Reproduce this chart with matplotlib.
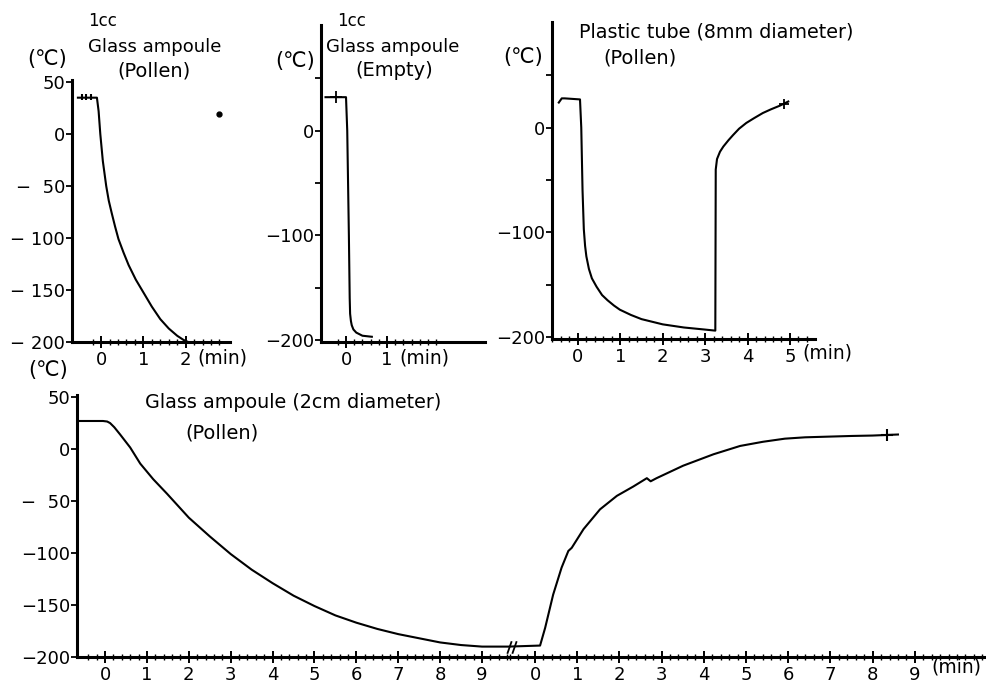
import numpy as np
import matplotlib
matplotlib.use("Agg")
import matplotlib.pyplot as plt
from matplotlib.ticker import FixedLocator

plt.rcParams['font.family'] = ['DejaVu Sans', 'Noto Sans CJK JP']

# ---------------- data ----------------
# Panel A: 1cc glass ampoule (pollen)
a_time = [-0.55, -0.10, -0.06, -0.02, 0.04, 0.12, 0.18, 0.25, 0.33, 0.41, 0.53, 0.65, 0.82, 1.01,
          1.20, 1.40, 1.60, 1.80, 1.95, 2.06]
a_temp = [35, 35, 22, 0, -26, -50, -64, -76, -89, -101, -114, -126, -140, -153,
          -166, -178, -187, -194, -198, -200]
a_marks_t = [-0.45, -0.35, -0.25]
a_marks_T = [36, 36, 36]
speck_t, speck_T = [2.79], [19]

# Panel B: 1cc glass ampoule (empty)
b_time = [-0.50, 0.00, 0.03, 0.07, 0.09, 0.10, 0.12, 0.14, 0.18, 0.25, 0.40, 0.63]
b_temp = [32, 32, 0, -100, -160, -175, -182, -186, -190, -193, -196, -197]
b_mark_t, b_mark_T = [-0.24], [32]

# Panel C: plastic tube 8mm (pollen)
c_time = [-0.45, -0.38, -0.31, 0.05, 0.08, 0.11, 0.14, 0.17, 0.20, 0.26, 0.33, 0.44, 0.57, 0.70,
          0.85, 0.99, 1.25, 1.50, 2.00, 2.50, 3.00, 3.24,
          3.25, 3.28, 3.35, 3.43, 3.55, 3.66, 3.80, 3.97, 4.15, 4.36, 4.55, 4.76, 4.96]
c_temp = [24, 28, 28, 27, 0, -60, -97, -113, -123, -135, -144, -152, -160, -165,
          -170, -174, -179, -183, -188, -191, -193, -194,
          -40, -30, -23, -18, -12, -7, -1, 4.5, 9, 14, 17.5, 21, 25]
c_mark_t, c_mark_T = [4.85], [23]

# Panel D: glass ampoule 2cm (pollen) – cooling segment
d1_time = [-0.60, -0.05, 0.05, 0.12, 0.22, 0.36, 0.60, 0.84, 1.15, 1.48, 2.00, 2.50, 3.00, 3.50,
           4.00, 4.50, 5.00, 5.50, 6.00, 6.50, 7.00, 7.50, 8.00, 8.50, 9.00, 9.62]
d1_temp = [27, 27, 26.5, 25, 21, 14, 1.5, -14, -29, -43, -66, -84, -101, -116,
           -129, -141, -151, -160, -167, -173, -178, -182, -186, -188.5, -190, -190]
# warming segment
d2_time = [-0.64, 0.12, 0.24, 0.43, 0.63, 0.79, 0.87, 1.15, 1.54, 1.94, 2.33, 2.65, 2.74, 2.88,
           3.51, 4.23, 4.86, 5.40, 5.92, 6.40, 6.99, 7.50, 8.00, 8.60]
d2_temp = [-190, -189, -172, -140, -114, -98, -95, -77, -58, -45, -36, -28, -31, -28,
           -16, -5, 3, 7, 10, 11.3, 12, 12.6, 13, 14]
d2_mark_t, d2_mark_T = [8.35], [14]

W, H = 987, 685
def fx(px):
    return px / W
def fy(py):
    return 1 - py / H

fig = plt.figure(figsize=(9.87, 6.85), dpi=100)

LW = 1.5
SPW = 2.2
FS = 13

def style(ax, left=True):
    ax.spines['top'].set_visible(False)
    ax.spines['right'].set_visible(False)
    ax.spines['left'].set_visible(left)
    ax.spines['left'].set_linewidth(SPW)
    ax.spines['bottom'].set_linewidth(SPW)
    ax.tick_params(axis='y', direction='out', length=4, width=1.3, labelsize=FS, pad=1)
    ax.tick_params(axis='x', which='major', direction='inout', length=9, width=1.4, labelsize=FS, pad=2)
    ax.tick_params(axis='x', which='minor', direction='inout', length=5, width=1.0)
    ax.set_facecolor('none')
    if not left:
        ax.tick_params(axis='y', left=False, labelleft=False)

def rect(x0, x1, y0, y1):
    return [fx(x0), fy(y1), (x1 - x0) / W, (y1 - y0) / H]

# ---------------- Panel A ----------------
axA = fig.add_axes(rect(72, 230, 80, 342))
axA.plot(a_time, a_temp, color='black', lw=LW)
axA.plot(a_marks_t, a_marks_T, ls='none', marker='|', ms=5, mew=1.5, color='black')
axA.plot(speck_t, speck_T, ls='none', marker='o', ms=3.5, color='black')
axA.set_xlim(-0.69, 3.05)
axA.set_ylim(-200, 52)
style(axA)
axA.set_yticks([50, 0, -50, -100, -150, -200])
axA.set_yticklabels(['50', '0', '−  50', '− 100', '− 150', '− 200'])
axA.set_xticks([0, 1, 2])
axA.set_xticklabels(['0', '1', '2'])
axA.xaxis.set_minor_locator(FixedLocator(np.arange(-0.2, 2.9, 0.2)))

# ---------------- Panel B ----------------
axB = fig.add_axes(rect(321, 485, 25, 342))
axB.plot(b_time, b_temp, color='black', lw=LW)
axB.plot(b_mark_t, b_mark_T, ls='none', marker='+', ms=8, mew=1.3, color='black')
axB.set_xlim(-0.61, 3.39)
axB.set_ylim(-202, 101)
style(axB)
axB.set_yticks([50, 0, -50, -100, -150, -200])
axB.set_yticklabels(['', '0', '', '−100', '', '−200'])
axB.set_xticks([0, 1])
axB.set_xticklabels(['0', '1'])
axB.xaxis.set_minor_locator(FixedLocator(np.arange(-0.2, 2.3, 0.2)))

# ---------------- Panel C ----------------
axC = fig.add_axes(rect(552, 815, 22, 339))
axC.plot(c_time, c_temp, color='black', lw=LW)
axC.plot(c_mark_t, c_mark_T, ls='none', marker='+', ms=7, mew=1.3, color='black')
axC.set_xlim(-0.61, 5.59)
axC.set_ylim(-202, 101)
style(axC)
axC.set_yticks([50, 0, -50, -100, -150, -200])
axC.set_yticklabels(['', '0', '', '−100', '', '−200'])
axC.set_xticks([0, 1, 2, 3, 4, 5])
axC.set_xticklabels(['0', '1', '2', '3', '4', '5'])
axC.xaxis.set_minor_locator(FixedLocator(np.arange(-0.6, 5.5, 0.2)))

# ---------------- Panel D (broken time axis) ----------------
axD1 = fig.add_axes(rect(77, 508, 395, 657))
axD1.plot(d1_time, d1_temp, color='black', lw=LW)
axD1.set_xlim(-0.67, 9.62)
axD1.set_ylim(-200, 52)
style(axD1)
axD1.set_yticks([50, 0, -50, -100, -150, -200])
axD1.set_yticklabels(['50', '0', '−  50', '−100', '−150', '−200'])
axD1.set_xticks(range(10))
axD1.set_xticklabels([str(i) for i in range(10)])
axD1.xaxis.set_minor_locator(FixedLocator(np.arange(-0.4, 9.61, 0.2)))

axD2 = fig.add_axes(rect(508, 987, 395, 657))
axD2.plot(d2_time, d2_temp, color='black', lw=LW)
axD2.plot(d2_mark_t, d2_mark_T, ls='none', marker='+', ms=9, mew=1.5, color='black')
axD2.plot([-0.62, -0.50], [-190, -190], ls='none', marker=[(-0.35, -1), (0.35, 1)],
          ms=9, mew=1.3, color='black', clip_on=False)
axD2.set_xlim(-0.64, 10.71)
axD2.set_ylim(-200, 52)
style(axD2, left=False)
axD2.set_xticks(range(10))
axD2.set_xticklabels([str(i) for i in range(10)])
axD2.xaxis.set_minor_locator(FixedLocator(np.arange(-0.6, 10.7, 0.2)))

# ---------------- texts ----------------
def t(px, py, s, size=FS, ha='center'):
    fig.text(fx(px), fy(py), s, fontsize=size, ha=ha, va='center')

t(103, 21, '1cc', 12)
t(155, 47, 'Glass ampoule', 13)
t(154, 71, '(Pollen)', 14)
t(47, 59, '(℃)', 15)
t(222, 358, '(min)', 13.5)

t(352, 21, '1cc', 12)
t(393, 47, 'Glass ampoule', 13)
t(394, 71, '(Empty)', 14)
t(295, 61, '(℃)', 15)
t(424, 358, '(min)', 13.5)

t(716, 32, 'Plastic tube (8mm diameter)', 13.8)
t(640, 58, '(Pollen)', 14)
t(523, 57, '(℃)', 15)
t(827, 353, '(min)', 13.5)

t(293, 402, 'Glass ampoule (2cm diameter)', 13.8)
t(222, 433, '(Pollen)', 14)
t(48, 370, '(℃)', 15)
t(956, 667, '(min)', 13.5)

fig.savefig('out.png', dpi=100, facecolor='white')
